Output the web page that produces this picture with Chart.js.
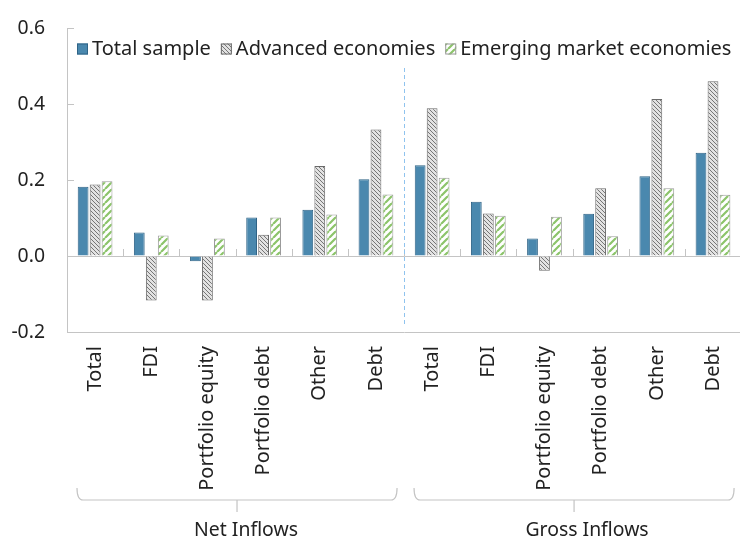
<!DOCTYPE html>
<html>
<head>
<meta charset="utf-8">
<script src="https://cdn.jsdelivr.net/npm/chart.js@4.4.0/dist/chart.umd.min.js"></script>
<style>
  html, body { margin: 0; padding: 0; background: #fff; overflow: hidden; }
  #wrap { width: 751px; height: 544px; }
</style>
</head>
<body>
<div id="wrap"><canvas id="grafico" width="751" height="544"></canvas></div>
<script>
const categorias = ['Total', 'FDI', 'Portfolio equity', 'Portfolio debt', 'Other', 'Debt',
                    'Total', 'FDI', 'Portfolio equity', 'Portfolio debt', 'Other', 'Debt'];
const totalSample = [0.182, 0.062, -0.014, 0.101, 0.122, 0.202, 0.239, 0.143, 0.046, 0.111, 0.210, 0.272];
const avanzadas = [0.188, -0.117, -0.117, 0.056, 0.237, 0.333, 0.389, 0.112, -0.039, 0.178, 0.413, 0.460];
const emergentes = [0.197, 0.054, 0.046, 0.101, 0.109, 0.162, 0.206, 0.106, 0.103, 0.052, 0.178, 0.161];
const yTicks = [-0.2, 0.0, 0.2, 0.4, 0.6];
const grupos = ['Net Inflows', 'Gross Inflows'];
const porGrupo = 6;

const fuente = '"Noto Sans", "Open Sans", sans-serif';
const tam = 19.4;
const gris = '#c4c4c4';

function rayado(fondo, linea, size, ancho, sube) {
  const c = document.createElement('canvas');
  c.width = size; c.height = size;
  const g = c.getContext('2d');
  g.fillStyle = fondo;
  g.fillRect(0, 0, size, size);
  g.strokeStyle = linea;
  g.lineWidth = ancho;
  g.beginPath();
  for (let k = -1; k <= 1; k++) {
    if (sube) {
      g.moveTo(k * size, size); g.lineTo(k * size + size, 0);
    } else {
      g.moveTo(k * size, 0); g.lineTo(k * size + size, size);
    }
  }
  g.stroke();
  return g.createPattern(c, 'repeat');
}

const patronGris = rayado('#e2e2e2', '#767676', 4, 1, false);
const patronVerde = rayado('#ffffff', '#8cc46a', 7, 2.2, true);

// limites entre categorias
function limite(x, i) {
  const n = x.ticks.length;
  const paso = (x.getPixelForValue(1) - x.getPixelForValue(0));
  if (i <= 0) return x.getPixelForValue(0) - paso / 2;
  if (i >= n) return x.getPixelForValue(n - 1) + paso / 2;
  return (x.getPixelForValue(i - 1) + x.getPixelForValue(i)) / 2;
}

const decoracion = {
  id: 'decoracion',
  beforeDatasetsDraw(chart) {
    const { ctx, chartArea } = chart;
    const x = chart.scales.x;
    const y = chart.scales.y;
    const y0 = y.getPixelForValue(0);
    ctx.save();
    ctx.strokeStyle = gris;
    ctx.lineWidth = 1;
    // marcas del eje y hacia dentro
    yTicks.forEach(v => {
      const py = Math.round(y.getPixelForValue(v)) + 0.5;
      ctx.beginPath();
      ctx.moveTo(chartArea.left, py);
      ctx.lineTo(chartArea.left + 7, py);
      ctx.stroke();
    });
    // marcas de categoria sobre la linea de cero
    for (let i = 1; i < categorias.length; i++) {
      const px = Math.round(limite(x, i)) + 0.5;
      ctx.beginPath();
      ctx.moveTo(px, y0);
      ctx.lineTo(px, y0 - 7);
      ctx.stroke();
    }
    // separador punteado
    const sx = Math.round(limite(x, porGrupo)) + 0.5;
    ctx.strokeStyle = '#8fc3ee';
    ctx.setLineDash([4, 3]);
    ctx.beginPath();
    ctx.moveTo(sx, chartArea.top + 40);
    ctx.lineTo(sx, chartArea.bottom - 7);
    ctx.stroke();
    ctx.restore();
  },
  afterDraw(chart) {
    const { ctx, chartArea } = chart;
    const x = chart.scales.x;
    ctx.save();
    // leyenda
    ctx.font = '20px ' + fuente;
    ctx.textBaseline = 'middle';
    ctx.textAlign = 'left';
    let px = chartArea.left + 10;
    const py = 49;
    chart.data.datasets.forEach(ds => {
      ctx.fillStyle = ds.backgroundColor;
      ctx.fillRect(px, py - 5.5, 11, 11);
      ctx.strokeStyle = ds.borderColor;
      ctx.lineWidth = 1;
      ctx.strokeRect(px + 0.5, py - 5, 10, 10);
      ctx.fillStyle = '#222';
      ctx.fillText(ds.label, px + 15, py);
      px += 15 + ctx.measureText(ds.label).width + 10;
    });
    // llaves de grupo
    ctx.font = tam + 'px ' + fuente;
    ctx.strokeStyle = gris;
    ctx.lineWidth = 1.2;
    ctx.textAlign = 'center';
    grupos.forEach((nombre, k) => {
      const izq = limite(x, k * porGrupo) + 10;
      const der = limite(x, (k + 1) * porGrupo) - 7;
      const medio = (izq + der) / 2;
      const yb = 500;
      ctx.beginPath();
      ctx.moveTo(izq, yb - 12);
      ctx.quadraticCurveTo(izq, yb, izq + 6, yb);
      ctx.lineTo(der - 6, yb);
      ctx.quadraticCurveTo(der, yb, der, yb - 12);
      ctx.moveTo(medio, yb);
      ctx.lineTo(medio, yb + 12);
      ctx.stroke();
      ctx.fillStyle = '#222';
      ctx.fillText(nombre, medio + 9 + k * 4, 530);
    });
    ctx.restore();
  }
};

new Chart(document.getElementById('grafico'), {
  type: 'bar',
  data: {
    labels: categorias,
    datasets: [{
      label: 'Total sample',
      data: totalSample,
      backgroundColor: '#4a88ae',
      borderColor: '#2f6386',
      borderWidth: 1
    }, {
      label: 'Advanced economies',
      data: avanzadas,
      backgroundColor: patronGris,
      borderColor: '#6a6a6a',
      borderWidth: 1
    }, {
      label: 'Emerging market economies',
      data: emergentes,
      backgroundColor: patronVerde,
      borderColor: '#9a9a9a',
      borderWidth: 1
    }]
  },
  options: {
    responsive: false,
    animation: false,
    datasets: {
      bar: { barPercentage: 0.9, categoryPercentage: 0.64 }
    },
    layout: { padding: { top: 28, left: 0, right: 0, bottom: 0 } },
    plugins: {
      legend: { display: false },
      tooltip: { enabled: false }
    },
    scales: {
      x: {
        grid: { display: false, drawTicks: false },
        border: { display: true, color: gris, width: 1 },
        ticks: {
          autoSkip: false,
          maxRotation: 90,
          minRotation: 90,
          padding: 14,
          color: '#222',
          font: { family: fuente, size: 20 }
        },
        afterFit(scale) { scale.height = 212; }
      },
      y: {
        min: -0.2,
        max: 0.6,
        afterBuildTicks(scale) { scale.ticks = yTicks.map(v => ({ value: v })); },
        grid: {
          drawTicks: false,
          color: c => (Math.abs(c.tick.value) < 1e-9 ? gris : 'rgba(0,0,0,0)')
        },
        border: { display: true, color: gris, width: 1 },
        ticks: {
          padding: 22,
          color: '#222',
          font: { family: fuente, size: tam },
          callback: v => v.toFixed(1)
        },
        afterFit(scale) {
          scale.width = 67;
          scale.paddingTop = 0;
          scale.paddingBottom = 0;
        }
      }
    }
  },
  plugins: [decoracion]
});
</script>
</body>
</html>
